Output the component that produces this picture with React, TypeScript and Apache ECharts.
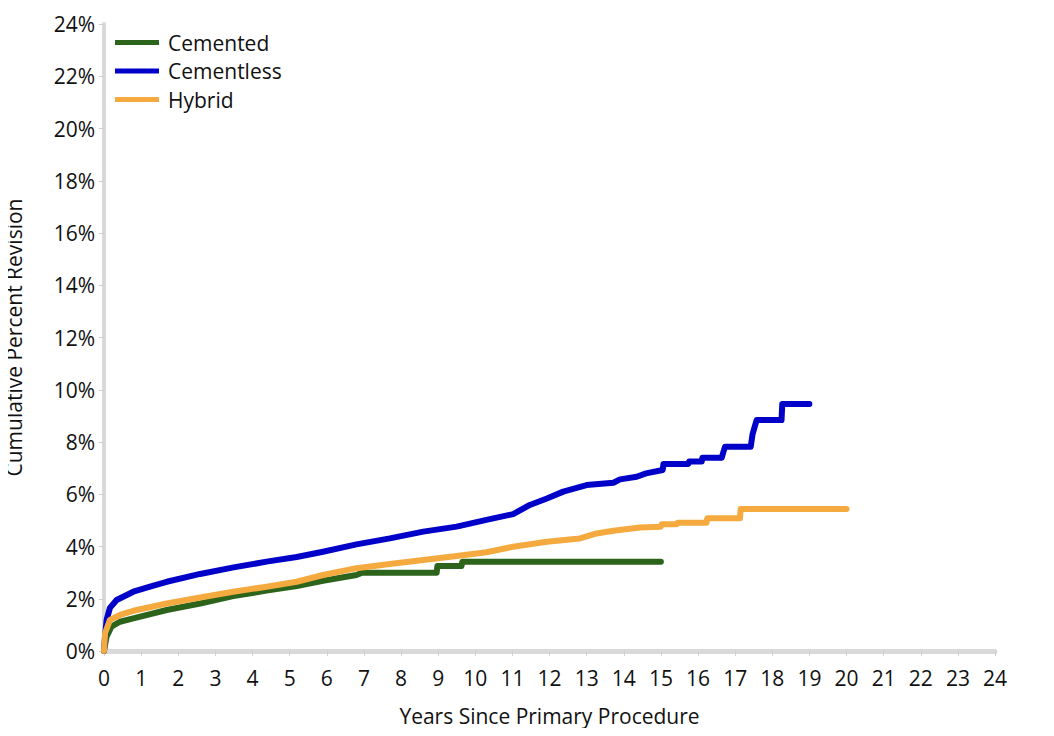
import React, { useEffect, useRef } from "react";
import * as echarts from "echarts";

const yearTicks = Array.from({ length: 25 }, (_, i) => i);
const seriesNames = ["Cemented", "Cementless", "Hybrid"];

const cementedYears = [0, 0.07, 0.2, 0.43, 0.79, 1.69, 2.59, 3.48, 4.38, 5.19, 5.9, 6.8, 6.95, 8.96, 8.98, 9.63, 9.65, 15.0];
const cementedValues = [0, 0.55, 0.93, 1.12, 1.25, 1.57, 1.82, 2.1, 2.31, 2.49, 2.69, 2.91, 3.0, 3.0, 3.25, 3.25, 3.42, 3.42];

const cementlessYears = [0, 0.02, 0.07, 0.16, 0.34, 0.79, 1.24, 1.69, 2.59, 3.49, 4.38, 5.19, 5.9, 6.8, 7.7, 8.6, 9.5, 10.3, 11.02, 11.47, 11.93, 12.37, 13.0, 13.72, 13.9, 14.35, 14.6, 15.05, 15.07, 15.74, 15.76, 16.1, 16.12, 16.64, 16.68, 16.73, 17.42, 17.47, 17.52, 17.58, 18.25, 18.27, 19.0];
const cementlessValues = [0, 0.42, 1.19, 1.65, 1.95, 2.27, 2.46, 2.65, 2.95, 3.2, 3.42, 3.6, 3.8, 4.08, 4.31, 4.57, 4.76, 5.02, 5.24, 5.59, 5.84, 6.1, 6.35, 6.44, 6.57, 6.67, 6.8, 6.93, 7.16, 7.16, 7.25, 7.25, 7.4, 7.4, 7.6, 7.82, 7.82, 8.3, 8.55, 8.84, 8.84, 9.45, 9.45];

const hybridYears = [0, 0.03, 0.16, 0.43, 0.79, 1.69, 2.59, 3.48, 4.38, 5.19, 5.9, 6.8, 7.7, 8.6, 9.5, 10.3, 11.02, 11.93, 12.82, 13.27, 13.72, 14.44, 15.0, 15.02, 15.43, 15.45, 16.23, 16.25, 17.13, 17.15, 20.0];
const hybridValues = [0, 0.69, 1.19, 1.38, 1.54, 1.82, 2.05, 2.27, 2.46, 2.65, 2.91, 3.17, 3.33, 3.48, 3.64, 3.78, 3.99, 4.18, 4.31, 4.5, 4.6, 4.73, 4.76, 4.85, 4.85, 4.91, 4.91, 5.08, 5.08, 5.44, 5.44];

const colors = ["#2d641c", "#0000c8", "#f4aa3e"];
const FONT = "'Open Sans', 'Noto Sans', sans-serif";

function pairs(xs: number[], ys: number[]) {
  return xs.map((x, i) => [x, ys[i]]);
}

export default function App() {
  const ref = useRef<HTMLDivElement>(null);
  useEffect(() => {
    if (!ref.current) return;
    const chart = echarts.init(ref.current, undefined, { renderer: "svg" });
    const data = [
      pairs(cementedYears, cementedValues),
      pairs(cementlessYears, cementlessValues),
      pairs(hybridYears, hybridValues),
    ];
    chart.setOption({
      animation: false,
      backgroundColor: "#ffffff",
      grid: { left: 104, right: 59, top: 24, bottom: 85, outerBoundsMode: "none", containLabel: false },
      legend: {
        left: 110,
        top: 27,
        orient: "vertical",
        icon: "rect",
        itemWidth: 44,
        itemHeight: 5,
        itemGap: 7.5,
        data: seriesNames,
        textStyle: { fontFamily: FONT, fontSize: 21, color: "#111", padding: [0, 0, 0, 4] },
      },
      xAxis: {
        type: "value",
        min: 0,
        max: 24,
        interval: 1,
        name: "Years Since Primary Procedure",
        nameLocation: "middle",
        nameGap: 54,
        nameTextStyle: { fontFamily: FONT, fontSize: 21, color: "#111" },
        axisLine: { show: true, lineStyle: { color: "#d9d9d9", width: 5 } },
        axisTick: { show: true, length: 5, lineStyle: { color: "#d0d0d0", width: 1 } },
        axisLabel: {
          fontFamily: FONT,
          fontSize: 21,
          color: "#111",
          margin: 16,
          formatter: (v: number) => (yearTicks.includes(v) ? String(v) : ""),
        },
        splitLine: { show: false },
      },
      yAxis: {
        type: "value",
        min: 0,
        max: 24,
        interval: 2,
        name: "Cumulative Percent Revision",
        nameLocation: "middle",
        nameGap: 80,
        nameTextStyle: { fontFamily: FONT, fontSize: 21, color: "#111" },
        axisLine: { show: true, lineStyle: { color: "#d9d9d9", width: 4 } },
        axisTick: { show: true, length: 5, lineStyle: { color: "#d0d0d0", width: 1 } },
        axisLabel: {
          fontFamily: FONT,
          fontSize: 21,
          color: "#111",
          margin: 9,
          formatter: (v: number) => v + "%",
        },
        splitLine: { show: false },
      },
      series: seriesNames.map((name, i) => ({
        name,
        type: "line",
        data: data[i],
        showSymbol: false,
        symbol: "none",
        color: colors[i],
        lineStyle: { color: colors[i], width: 6, cap: "round", join: "round" },
        z: i + 2,
      })),
      graphic: [
        { type: "rect", left: 1052, top: 48, shape: { width: 2, height: 5 }, style: { fill: "#d99a5a" } },
        { type: "rect", left: 1052, top: 145, shape: { width: 2, height: 5 }, style: { fill: "#d99a5a" } },
        { type: "rect", left: 1052, top: 314, shape: { width: 2, height: 5 }, style: { fill: "#d99a5a" } },
      ],
    });
    return () => chart.dispose();
  }, []);
  return <div ref={ref} style={{ width: 1054, height: 736, margin: -8 }} />;
}
